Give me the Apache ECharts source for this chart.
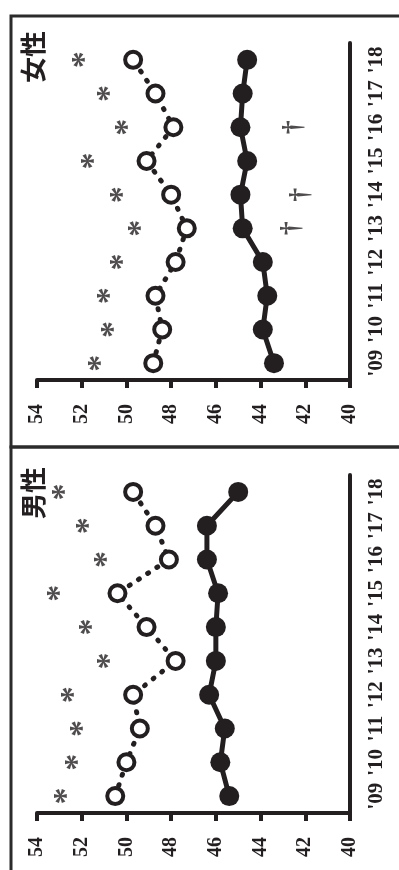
<!DOCTYPE html>
<html>
<head>
<meta charset="utf-8">
<script src="https://cdn.jsdelivr.net/npm/echarts@6/dist/echarts.min.js"></script>
<style>
html,body{margin:0;padding:0;background:#fff;}
#chart{width:399px;height:870px;}
</style>
</head>
<body>
<div id="chart"></div>
<script>
var years = ["'09","'10","'11","'12","'13","'14","'15","'16","'17","'18"];
var valueTicks = [40, 54, 2]; // min, max, interval

var femaleFilled = [43.4, 43.9, 43.7, 43.9, 44.8, 44.9, 44.6, 44.9, 44.8, 44.6];
var femaleOpen   = [48.8, 48.4, 48.7, 47.8, 47.3, 48.0, 49.1, 47.9, 48.7, 49.7];
var femaleStar   = [51.5, 50.9, 51.1, 50.5, 49.7, 50.5, 51.8, 50.3, 51.1, 52.2];
var femaleDagger = [null, null, null, null, 42.6, 42.2, null, 42.5, null, null];

var maleFilled = [45.4, 45.8, 45.6, 46.3, 46.0, 46.0, 45.9, 46.4, 46.4, 45.0];
var maleOpen   = [50.5, 50.0, 49.4, 49.7, 47.8, 49.1, 50.4, 48.1, 48.7, 49.7];
var maleStar   = [53.0, 52.5, 52.3, 52.7, 51.1, 51.9, 53.3, 51.2, 52.0, 53.1];
var maleDagger = [null, null, null, null, null, null, null, null, null, null];

var panelTitles = ['女性', '男性'];

var INK = '#231f20';
var SERIF = '"Liberation Serif", "DejaVu Serif", serif';

function pairs(arr) {
  var out = [];
  arr.forEach(function (v, i) { if (v !== null) out.push([v, years[i]]); });
  return out;
}

var grids = [
  {left: 37, right: 49, top: 43, bottom: 490},
  {left: 37, right: 49, top: 475, bottom: 57}
];

function xAxisFor(i) {
  return {
    type: 'value', gridIndex: i, inverse: true,
    min: valueTicks[0], max: valueTicks[1], interval: valueTicks[2],
    splitLine: {show: false},
    axisLine: {show: true, lineStyle: {color: INK, width: 4}},
    axisTick: {show: true, length: 8, lineStyle: {color: INK, width: 4}},
    axisLabel: {rotate: 90, margin: 24, color: INK, fontFamily: SERIF, fontWeight: 'bold', fontSize: 20}
  };
}
function yAxisFor(i) {
  return {
    type: 'category', gridIndex: i, position: 'right', data: years, boundaryGap: true,
    axisLine: {show: true, lineStyle: {color: INK, width: 4}},
    axisTick: {show: false},
    splitLine: {show: false},
    axisLabel: {rotate: 90, margin: 16, color: INK, fontFamily: SERIF, fontWeight: 'bold', fontSize: 21, interval: 0}
  };
}

function panelSeries(i, filled, open, star, dagger) {
  return [
    {
      type: 'line', xAxisIndex: i, yAxisIndex: i, data: pairs(open),
      symbol: 'circle', symbolSize: 16,
      itemStyle: {color: '#fff', borderColor: INK, borderWidth: 4},
      lineStyle: {color: INK, width: 5, type: [1, 10], cap: 'round'},
      z: 3
    },
    {
      type: 'line', xAxisIndex: i, yAxisIndex: i, data: pairs(filled),
      symbol: 'circle', symbolSize: 20,
      itemStyle: {color: INK},
      lineStyle: {color: INK, width: 5},
      z: 4
    },
    {
      type: 'scatter', xAxisIndex: i, yAxisIndex: i, data: pairs(star),
      symbolSize: 0,
      label: {show: true, position: 'inside', formatter: '*', rotate: 90, offset: [0, 8],
        color: INK, fontFamily: SERIF, fontWeight: 'bold', fontSize: 34},
      z: 5
    },
    {
      type: 'scatter', xAxisIndex: i, yAxisIndex: i, data: pairs(dagger),
      symbolSize: 0,
      label: {show: true, position: 'inside', formatter: '†', rotate: 90,
        color: INK, fontFamily: SERIF, fontWeight: 'bold', fontSize: 28},
      z: 5
    }
  ];
}

var chart = echarts.init(document.getElementById('chart'), null, {renderer: 'canvas'});
chart.setOption({
  animation: false,
  backgroundColor: '#fff',
  grid: grids,
  xAxis: [xAxisFor(0), xAxisFor(1)],
  yAxis: [yAxisFor(0), yAxisFor(1)],
  series: panelSeries(0, femaleFilled, femaleOpen, femaleStar, femaleDagger)
    .concat(panelSeries(1, maleFilled, maleOpen, maleStar, maleDagger)),
  graphic: [
    {type: 'rect', shape: {x: 11, y: 16, width: 400, height: 431},
      style: {fill: 'none', stroke: '#2b2b2b', lineWidth: 3}, z: 0},
    {type: 'rect', shape: {x: 11, y: 447, width: 400, height: 440},
      style: {fill: 'none', stroke: '#2b2b2b', lineWidth: 3}, z: 0},
    {type: 'text', x: 33, y: 57, rotation: Math.PI / 2,
      style: {text: panelTitles[0], fill: INK, font: 'bold 26px "Noto Sans CJK JP", sans-serif',
        align: 'center', verticalAlign: 'middle'}, z: 10},
    {type: 'text', x: 33, y: 493, rotation: Math.PI / 2,
      style: {text: panelTitles[1], fill: INK, font: 'bold 26px "Noto Sans CJK JP", sans-serif',
        align: 'center', verticalAlign: 'middle'}, z: 10}
  ]
});
</script>
</body>
</html>
